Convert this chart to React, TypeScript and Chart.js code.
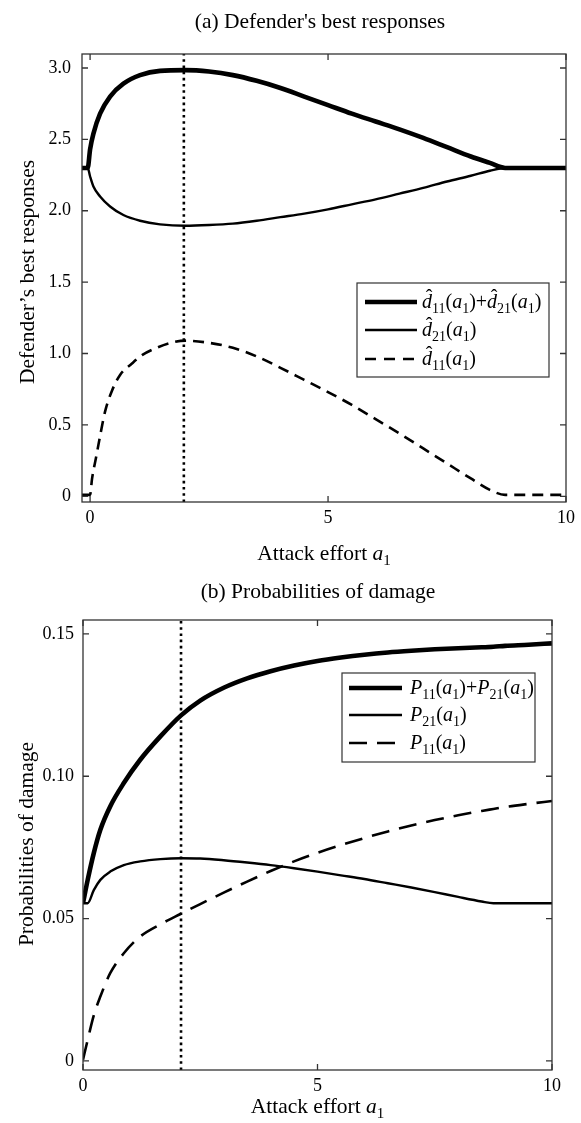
import React, { useEffect, useRef } from 'react';
import { Chart, registerables } from 'chart.js';

Chart.register(...registerables);

const FONT = '"Liberation Serif", "Times New Roman", serif';
const TITLE_SIZE = 21.5;

// ---------- (a) Defender's best responses ----------
const topX = [-0.17, -0.05, 0, 0.07, 0.21, 0.42, 0.70, 1.05, 1.47, 2.0, 2.5, 3, 3.5, 4, 4.5, 5, 5.5, 6, 6.5, 7, 7.5, 8, 8.4, 8.72, 10];
const topSum = [2.30, 2.30, 2.43, 2.54, 2.68, 2.80, 2.89, 2.95, 2.98, 2.985, 2.975, 2.95, 2.91, 2.86, 2.80, 2.74, 2.68, 2.625, 2.57, 2.51, 2.445, 2.38, 2.335, 2.30, 2.30];
const topD21 = [2.30, 2.30, 2.24, 2.17, 2.10, 2.03, 1.97, 1.93, 1.905, 1.895, 1.90, 1.91, 1.93, 1.955, 1.98, 2.01, 2.045, 2.08, 2.12, 2.16, 2.205, 2.245, 2.28, 2.30, 2.30];
const topD11X = [-0.17, 0, 0.04, 0.13, 0.22, 0.32, 0.46, 0.63, 0.88, 1.1, 1.4, 1.7, 2.0, 2.5, 3, 3.5, 4, 4.5, 5, 5.5, 6, 6.5, 7, 7.5, 8, 8.4, 8.72, 10];
const topD11 = [0.01, 0.01, 0.12, 0.28, 0.44, 0.60, 0.74, 0.85, 0.93, 0.99, 1.04, 1.075, 1.09, 1.075, 1.04, 0.98, 0.90, 0.815, 0.73, 0.64, 0.54, 0.44, 0.335, 0.23, 0.125, 0.045, 0.01, 0.01];
const topMarkerX = 1.97;
const topXTicks = [0, 5, 10];
const topYTicks = [0, 0.5, 1.0, 1.5, 2.0, 2.5, 3.0];
const topXRange = [-0.17, 10];
const topYRange = [-0.04, 3.098];

// ---------- (b) Probabilities of damage ----------
const botX = [0, 0.1, 0.23, 0.37, 0.58, 0.87, 1.22, 1.65, 2.09, 2.5, 3, 3.5, 4, 4.5, 5, 5.5, 6, 6.5, 7, 7.5, 8, 8.5, 8.75, 9, 9.5, 10];
const botSum = [0.0554, 0.0636, 0.073, 0.0812, 0.0894, 0.0976, 0.1058, 0.114, 0.1214, 0.1266, 0.1311, 0.1344, 0.1369, 0.1389, 0.1405, 0.1417, 0.1427, 0.1435, 0.1441, 0.1446, 0.145, 0.1453, 0.1455, 0.1458, 0.1462, 0.1467];
const botP21 = [0.0554, 0.0554, 0.060, 0.0636, 0.0665, 0.0688, 0.0701, 0.0709, 0.0712, 0.0711, 0.0705, 0.0697, 0.0688, 0.0677, 0.0665, 0.0652, 0.0639, 0.0624, 0.0609, 0.0593, 0.0576, 0.056, 0.0554, 0.0554, 0.0554, 0.0554];
const botP11 = [0.0004, 0.0074, 0.016, 0.0226, 0.0308, 0.0378, 0.0437, 0.048, 0.0517, 0.0551, 0.0591, 0.063, 0.0667, 0.0701, 0.0731, 0.0758, 0.0783, 0.0806, 0.0827, 0.0846, 0.0863, 0.0878, 0.0885, 0.0892, 0.0903, 0.0913];
const botMarkerX = 2.09;
const botXTicks = [0, 5, 10];
const botYTicks = [0, 0.05, 0.10, 0.15];
const botXRange = [0, 10];
const botYRange = [-0.0032, 0.1549];

type Part = { t: string; it?: boolean; sub?: boolean; hat?: boolean };

function drawParts(ctx: CanvasRenderingContext2D, parts: Part[], x: number, y: number, size: number, align: 'left' | 'center') {
  const subSize = Math.round(size * 0.7);
  const fontOf = (p: Part) => `${p.it ? 'italic ' : ''}${p.sub ? subSize : size}px ${FONT}`;
  let w = 0;
  for (const p of parts) {
    ctx.font = fontOf(p);
    w += ctx.measureText(p.t).width;
  }
  let cx = align === 'center' ? x - w / 2 : x;
  ctx.textAlign = 'left';
  ctx.textBaseline = 'alphabetic';
  ctx.fillStyle = '#000';
  for (const p of parts) {
    ctx.font = fontOf(p);
    const pw = ctx.measureText(p.t).width;
    const yy = p.sub ? y + size * 0.25 : y;
    ctx.fillText(p.t, cx, yy);
    if (p.hat) {
      ctx.font = `${size}px ${FONT}`;
      const hw = ctx.measureText('\u02C6').width;
      ctx.fillText('\u02C6', cx + pw / 2 - hw / 2 + size * 0.1, yy - size * 0.2);
    }
    cx += pw;
  }
  return w;
}

type LegendRow = { parts: Part[]; width: number; dash: number[] };
type Deco = {
  title: string;
  titleX: number;
  titleY: number;
  xTitleY: number;
  yTitle: string;
  yTitleX: number;
  yTitleY: number;
  legend: { left: number; top: number; right: number; bottom: number; lineX0: number; lineX1: number; textX: number; rows: number[]; items: LegendRow[] };
  xTicks: number[];
  yTicks: number[];
};

function decoPlugin(d: Deco) {
  return {
    id: 'deco',
    afterDraw(chart: any) {
      const ctx: CanvasRenderingContext2D = chart.ctx;
      const a = chart.chartArea;
      const xs = chart.scales.x;
      const ys = chart.scales.y;
      ctx.save();
      ctx.strokeStyle = '#333';
      ctx.lineWidth = 1.3;
      ctx.setLineDash([]);
      ctx.strokeRect(a.left, a.top, a.right - a.left, a.bottom - a.top);
      ctx.beginPath();
      const tl = 6;
      for (const v of d.yTicks) {
        const py = ys.getPixelForValue(v);
        ctx.moveTo(a.left, py); ctx.lineTo(a.left + tl, py);
        ctx.moveTo(a.right, py); ctx.lineTo(a.right - tl, py);
      }
      for (const v of d.xTicks) {
        const px = xs.getPixelForValue(v);
        ctx.moveTo(px, a.bottom); ctx.lineTo(px, a.bottom - tl);
        ctx.moveTo(px, a.top); ctx.lineTo(px, a.top + tl);
      }
      ctx.stroke();
      ctx.fillStyle = '#000';
      ctx.font = `${TITLE_SIZE}px ${FONT}`;
      ctx.textAlign = 'center';
      ctx.textBaseline = 'alphabetic';
      ctx.fillText(d.title, d.titleX, d.titleY);
      drawParts(ctx, [{ t: 'Attack effort ' }, { t: 'a', it: true }, { t: '1', sub: true }], (a.left + a.right) / 2, d.xTitleY, TITLE_SIZE, 'center');
      ctx.save();
      ctx.translate(d.yTitleX, d.yTitleY);
      ctx.rotate(-Math.PI / 2);
      ctx.font = `${TITLE_SIZE}px ${FONT}`;
      ctx.textAlign = 'center';
      ctx.textBaseline = 'alphabetic';
      ctx.fillStyle = '#000';
      ctx.fillText(d.yTitle, 0, 0);
      ctx.restore();
      const L = d.legend;
      ctx.fillStyle = '#fff';
      ctx.fillRect(L.left, L.top, L.right - L.left, L.bottom - L.top);
      ctx.strokeStyle = '#333';
      ctx.lineWidth = 1.2;
      ctx.strokeRect(L.left, L.top, L.right - L.left, L.bottom - L.top);
      L.items.forEach((it, i) => {
        const y = L.rows[i];
        ctx.beginPath();
        ctx.strokeStyle = '#000';
        ctx.lineWidth = it.width;
        ctx.setLineDash(it.dash);
        ctx.moveTo(L.lineX0, y);
        ctx.lineTo(L.lineX1, y);
        ctx.stroke();
        ctx.setLineDash([]);
        drawParts(ctx, it.parts, L.textX, y + 6, 20, 'left');
      });
      ctx.restore();
    },
  };
}

function pts(xs: number[], ys: number[]) {
  return xs.map((x, i) => ({ x, y: ys[i] }));
}

function makeChart(canvas: HTMLCanvasElement, cfg: {
  xs: number[]; x11: number[]; sum: number[]; s21: number[]; s11: number[]; marker: number;
  xRange: number[]; yRange: number[]; xTicks: number[]; yTicks: number[];
  padding: any; yWidth: number; xHeight: number; yPad: number; xPad: number; dash: number[];
  yFmt: (v: number) => string; deco: Deco;
}) {
  const base = { pointRadius: 0, pointHoverRadius: 0, borderColor: '#000', backgroundColor: '#000', fill: false, cubicInterpolationMode: 'monotone' as const };
  return new Chart(canvas, {
    type: 'line',
    data: {
      datasets: [
        { ...base, label: 'sum', data: pts(cfg.xs, cfg.sum), borderWidth: 4.6 },
        { ...base, label: '21', data: pts(cfg.xs, cfg.s21), borderWidth: 2.4 },
        { ...base, label: '11', data: pts(cfg.x11, cfg.s11), borderWidth: 2.6, borderDash: cfg.dash },
        { ...base, label: 'marker', data: [{ x: cfg.marker, y: cfg.yRange[0] }, { x: cfg.marker, y: cfg.yRange[1] }], borderWidth: 2.6, borderDash: [2.6, 3.6], cubicInterpolationMode: 'default' as const, tension: 0 },
      ],
    },
    options: {
      responsive: false,
      animation: false,
      events: [],
      layout: { padding: cfg.padding },
      plugins: { legend: { display: false }, title: { display: false }, tooltip: { enabled: false } },
      scales: {
        x: {
          type: 'linear',
          min: cfg.xRange[0],
          max: cfg.xRange[1],
          grid: { display: false, drawTicks: false },
          border: { display: false },
          afterBuildTicks: (s: any) => { s.ticks = cfg.xTicks.map((v) => ({ value: v })); },
          afterFit: (s: any) => { s.height = cfg.xHeight; },
          ticks: { padding: cfg.xPad, color: '#000', font: { family: FONT, size: 18 }, maxRotation: 0, callback: (v: any) => String(v) },
        },
        y: {
          type: 'linear',
          min: cfg.yRange[0],
          max: cfg.yRange[1],
          grid: { display: false, drawTicks: false },
          border: { display: false },
          afterBuildTicks: (s: any) => { s.ticks = cfg.yTicks.map((v) => ({ value: v })); },
          afterFit: (s: any) => { s.width = cfg.yWidth; },
          ticks: { padding: cfg.yPad, color: '#000', font: { family: FONT, size: 18 }, callback: (v: any) => cfg.yFmt(Number(v)) },
        },
      },
    },
    plugins: [decoPlugin(cfg.deco)],
  } as any);
}

const hatD = (sub: string): Part[] => [{ t: 'd', it: true, hat: true }, { t: sub, sub: true }, { t: '(' }, { t: 'a', it: true }, { t: '1', sub: true }, { t: ')' }];
const pP = (sub: string): Part[] => [{ t: 'P', it: true }, { t: sub, sub: true }, { t: '(' }, { t: 'a', it: true }, { t: '1', sub: true }, { t: ')' }];

export default function App() {
  const topRef = useRef<HTMLCanvasElement>(null);
  const botRef = useRef<HTMLCanvasElement>(null);

  useEffect(() => {
    const c1 = makeChart(topRef.current!, {
      xs: topX, x11: topD11X, sum: topSum, s21: topD21, s11: topD11, marker: topMarkerX,
      xRange: topXRange, yRange: topYRange, xTicks: topXTicks, yTicks: topYTicks,
      padding: { left: 0, right: 15, top: 54, bottom: 0 }, yWidth: 82, xHeight: 78, yPad: 11, xPad: 5,
      dash: [11, 7],
      yFmt: (v) => (v === 0 ? '0' : v.toFixed(1)),
      deco: {
        title: "(a) Defender's best responses", titleX: 320, titleY: 28,
        xTitleY: 560,
        yTitle: 'Defender\u2019s best responses', yTitleX: 34, yTitleY: 272,
        legend: {
          left: 357, top: 283, right: 549, bottom: 377, lineX0: 365, lineX1: 417, textX: 422, rows: [302, 330, 359],
          items: [
            { parts: [...hatD('11'), { t: '+' }, ...hatD('21')], width: 4.6, dash: [] },
            { parts: hatD('21'), width: 2.4, dash: [] },
            { parts: hatD('11'), width: 2.6, dash: [11, 8] },
          ],
        },
        xTicks: topXTicks, yTicks: topYTicks,
      },
    });
    const c2 = makeChart(botRef.current!, {
      xs: botX, x11: botX, sum: botSum, s21: botP21, s11: botP11, marker: botMarkerX,
      xRange: botXRange, yRange: botYRange, xTicks: botXTicks, yTicks: botYTicks,
      padding: { left: 0, right: 29, top: 60, bottom: 0 }, yWidth: 83, xHeight: 53, yPad: 9, xPad: 5,
      dash: [18, 10],
      yFmt: (v) => (v === 0 ? '0' : v.toFixed(2)),
      deco: {
        title: '(b) Probabilities of damage', titleX: 318, titleY: 38,
        xTitleY: 553,
        yTitle: 'Probabilities of damage', yTitleX: 33, yTitleY: 284,
        legend: {
          left: 342, top: 673 - 560, right: 535, bottom: 762 - 560, lineX0: 349, lineX1: 402, textX: 410, rows: [688 - 560, 715 - 560, 743 - 560],
          items: [
            { parts: [...pP('11'), { t: '+' }, ...pP('21')], width: 4.6, dash: [] },
            { parts: pP('21'), width: 2.4, dash: [] },
            { parts: pP('11'), width: 2.6, dash: [18, 10] },
          ],
        },
        xTicks: botXTicks, yTicks: botYTicks,
      },
    });
    return () => {
      c1.destroy();
      c2.destroy();
    };
  }, []);

  return (
    <div style={{ position: 'absolute', left: 0, top: 0, width: 581, height: 1123, background: '#fff' }}>
      <canvas ref={topRef} width={581} height={580} style={{ position: 'absolute', left: 0, top: 0, width: 581, height: 580 }} />
      <canvas ref={botRef} width={581} height={563} style={{ position: 'absolute', left: 0, top: 560, width: 581, height: 563 }} />
    </div>
  );
}
